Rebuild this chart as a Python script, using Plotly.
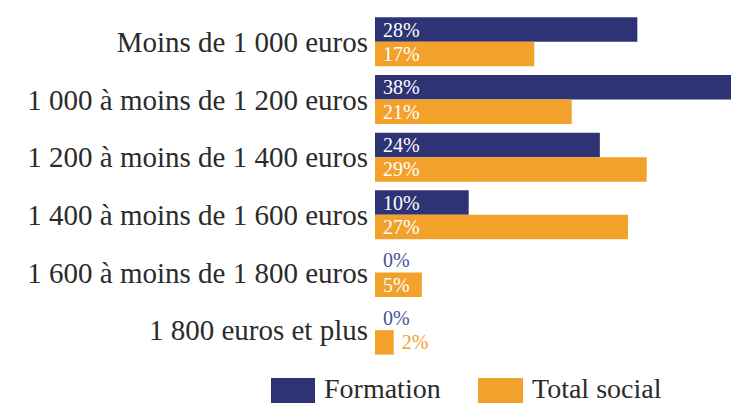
import plotly.graph_objects as go

categories = [
    "Moins de 1 000 euros",
    "1 000 à moins de 1 200 euros",
    "1 200 à moins de 1 400 euros",
    "1 400 à moins de 1 600 euros",
    "1 600 à moins de 1 800 euros",
    "1 800 euros et plus",
]
formation = [28, 38, 24, 10, 0, 0]
total_social = [17, 21, 29, 27, 5, 2]
series_names = ["Formation", "Total social"]

NAVY = "#2E3376"
ORANGE = "#F2A12B"
LABEL_NAVY = "#4B4F9C"
LABEL_ORANGE = "#F2A12B"
FONT = "Times New Roman, Times, serif"
LABEL_SIZE = 20


def positions(vals, min_inside=4):
    return ["inside" if v >= min_inside else "outside" for v in vals]


def colors(vals, outside_col, min_inside=4):
    return ["white" if v >= min_inside else outside_col for v in vals]


fig = go.Figure()
fig.add_trace(go.Bar(
    y=categories, x=formation, orientation="h", name=series_names[0],
    marker=dict(color=NAVY, line=dict(width=0)),
    text=["\u00a0" + f"{v}%" for v in formation],
    textposition=positions(formation),
    insidetextanchor="start",
    textfont=dict(family=FONT, size=LABEL_SIZE, color=colors(formation, LABEL_NAVY)),
    cliponaxis=False,
))
fig.add_trace(go.Bar(
    y=categories, x=total_social, orientation="h", name=series_names[1],
    marker=dict(color=ORANGE, line=dict(width=0)),
    text=["\u00a0" + f"{v}%" for v in total_social],
    textposition=positions(total_social),
    insidetextanchor="start",
    textfont=dict(family=FONT, size=LABEL_SIZE, color=colors(total_social, LABEL_ORANGE)),
    cliponaxis=False,
))

# custom legend (large swatches)
PLOT_L, PLOT_R, PLOT_T, PLOT_B = 375, 731, 13, 359
W, H = PLOT_R - PLOT_L, PLOT_B - PLOT_T


def px_x(p):
    return (p - PLOT_L) / W


def px_y(p):
    return (PLOT_B - p) / H


legend_items = [(series_names[0], NAVY, 271, 315, 322), (series_names[1], ORANGE, 478, 523, 530)]
shapes, annotations = [], []
for name, col, x0, x1, tx in legend_items:
    shapes.append(dict(type="rect", xref="paper", yref="paper",
                       x0=px_x(x0), x1=px_x(x1), y0=px_y(403), y1=px_y(378),
                       fillcolor=col, line=dict(width=0)))
    annotations.append(dict(xref="paper", yref="paper", x=px_x(tx), y=px_y(388),
                            text=name, showarrow=False, xanchor="left", yanchor="middle",
                            font=dict(family=FONT, size=28, color="#2B2B2B")))

fig.update_layout(
    width=731, height=405,
    margin=dict(l=PLOT_L, r=731 - PLOT_R, t=PLOT_T, b=405 - PLOT_B),
    barmode="group", bargap=0.15, bargroupgap=0,
    plot_bgcolor="white", paper_bgcolor="white",
    showlegend=False,
    shapes=shapes, annotations=annotations,
    font=dict(family=FONT, color="#2B2B2B"),
    uniformtext=dict(mode="show", minsize=LABEL_SIZE),
)
fig.update_xaxes(range=[0, 38], visible=False, showgrid=False, zeroline=False)
fig.update_yaxes(autorange="reversed", showgrid=False, zeroline=False, showline=False,
                 ticks="", ticklabelstandoff=6,
                 tickfont=dict(family=FONT, size=29, color="#2B2B2B"))

fig.write_html("out.html")
